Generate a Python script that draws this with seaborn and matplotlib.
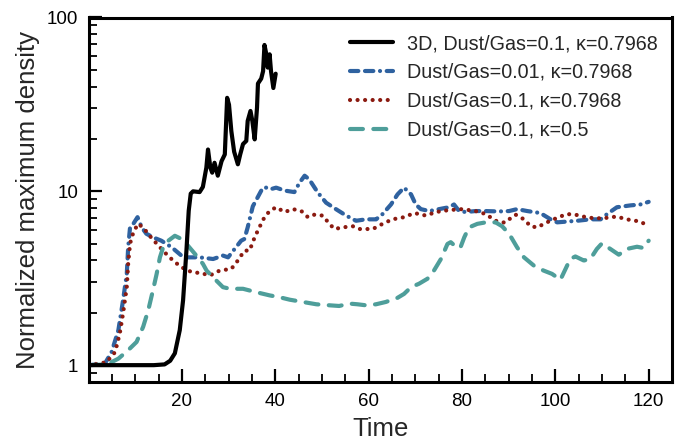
import numpy as np
import pandas as pd
import seaborn as sns
import matplotlib
matplotlib.use("Agg")
import matplotlib.pyplot as plt
from matplotlib.ticker import FixedLocator, FixedFormatter, LogLocator, NullFormatter, MultipleLocator

# ---------------- data ----------------
labels = ["3D, Dust/Gas=0.1, \u03ba=0.7968",
          "Dust/Gas=0.01, \u03ba=0.7968",
          "Dust/Gas=0.1, \u03ba=0.7968",
          "Dust/Gas=0.1, \u03ba=0.5"]

time_3d = [0, 5, 10, 14, 16.3, 17.5, 18.5, 19.55, 20.26, 20.98, 21.47, 21.9, 22.4, 23.8, 24.5,
           25.25, 25.6, 26.1, 26.5, 27.0, 27.7, 28.5, 29.2, 29.7, 30.1, 30.6, 31.2, 32.0, 32.5,
           33.1, 33.8, 34.1, 34.7, 35.1, 35.6, 36.1, 36.3, 37.0, 37.4, 37.7, 38.1, 38.4, 38.8,
           39.1, 39.6, 40.1]
dens_3d = [1.0, 1.0, 1.0, 1.0, 1.01, 1.06, 1.17, 1.59, 2.36, 4.56, 7.73, 9.7, 10.0, 9.9, 10.6,
           13.7, 17.4, 13.7, 12.8, 14.6, 12.3, 14.9, 16.3, 34.5, 31.5, 22.2, 16.9, 14.3, 16.3,
           18.7, 19.5, 25.4, 29.0, 25.4, 19.9, 30.3, 41.7, 44.5, 49.1, 69.5, 61.4, 51.5, 61.4,
           49.1, 39.3, 47.5]

time_d001 = [0, 3.5, 4.95, 6.4, 7.4, 8.2, 8.5, 8.9, 9.6, 10.5, 11.4, 12.4, 13.8, 15.6, 17.8,
             19.9, 21.3, 23.8, 26.7, 28.8, 29.9, 31.3, 32.7, 33.4, 34.1, 35.2, 36.3, 37.35,
             38.4, 39.1, 40.2, 42.0, 44.1, 45.2, 46.3, 47.3, 49.1, 50.9, 53.0, 55.2, 57.3,
             59.4, 61.6, 63.0, 64.8, 66.2, 67.6, 69.1, 70.1, 71.2, 73.0, 75.1, 77.2, 78.3,
             79.4, 80.8, 82.9, 85.1, 87.9, 90.1, 91.8, 94.0, 96.8, 99.0, 100.4, 102.5, 104.7,
             107.5, 109.7, 111.1, 113.2, 116.1, 118.2, 120.0]
dens_d001 = [1.0, 1.02, 1.19, 1.59, 2.36, 3.35, 4.77, 6.2, 6.5, 7.1, 6.2, 5.7, 5.44, 5.2, 4.77,
             4.27, 4.17, 4.17, 4.08, 4.27, 4.17, 4.66, 5.2, 5.32, 6.2, 8.2, 9.3, 10.5,
             10.5, 10.3, 10.5, 10.1, 9.9, 11.2, 12.3, 11.7, 9.86, 8.6, 7.9, 7.25, 6.77,
             6.9, 6.9, 7.4, 8.4, 9.6, 10.5, 9.6, 8.4, 7.9, 7.7, 7.9, 8.1, 8.4,
             7.7, 7.6, 7.7, 7.7, 7.66, 7.7, 7.9, 7.7, 7.5, 6.9, 6.63, 6.7, 6.77,
             6.9, 6.9, 7.4, 8.1, 8.3, 8.4, 8.7]

time_d01 = [0, 3.9, 5.7, 6.7, 7.4, 8.2, 8.5, 8.9, 9.6, 10.6, 11.7, 13.1, 14.6, 16.3, 18.1,
            19.9, 22.1, 24.2, 26.0, 28.1, 30.6, 32.0, 33.4, 34.5, 35.6, 36.6, 37.7, 38.8,
            40.2, 42.0, 43.8, 45.6, 47.0, 48.4, 50.2, 51.6, 52.7, 54.4, 56.6, 58.0, 60.9,
            63.0, 65.1, 67.6, 69.8, 72.3, 74.4, 77.2, 80.1, 82.9, 85.1, 87.2, 89.2, 90.1,
            91.5, 93.3, 94.7, 96.1, 98.2, 100.7, 102.5, 104.3, 106.1, 108.2, 110.4, 111.8,
            113.2, 115.3, 118.2, 120.0]
dens_d01 = [1.0, 1.04, 1.19, 1.52, 1.98, 2.81, 3.83, 5.0, 5.8, 6.5, 6.2, 5.55, 5.0, 4.46, 4.0,
            3.66, 3.43, 3.38, 3.28, 3.5, 3.58, 4.0, 4.56, 4.56, 5.44, 6.2, 7.1, 7.7,
            8.1, 7.6, 7.9, 7.7, 7.1, 7.34, 7.25, 6.5, 6.07, 6.2, 6.3, 6.07, 6.07,
            6.5, 6.9, 7.1, 7.5, 7.25, 7.6, 7.8, 7.9, 7.7, 7.4, 6.77, 6.6, 6.9,
            7.34, 6.9, 6.3, 6.2, 6.63, 7.1, 7.4, 7.34, 7.15, 7.0, 7.0, 7.1,
            7.15, 6.9, 6.7, 6.3]

time_k05 = [0, 4, 6.4, 8.5, 10.3, 11.7, 12.8, 13.8, 14.6, 15.3, 16.0, 17.1, 18.5, 19.9, 21.3,
            23.1, 24.5, 25.3, 27.0, 28.8, 30.3, 33.1, 35.9, 38.8, 40.9, 43.1, 45.9, 48.8,
            51.6, 53.7, 55.9, 57.6, 59.4, 61.6, 63.7, 66.2, 67.6, 69.1, 70.8, 72.6, 74.0,
            75.5, 76.9, 77.6, 79.0, 79.7, 80.5, 81.5, 83.3, 85.1, 87.2, 88.6, 90.1, 91.8,
            93.3, 95.4, 97.5, 99.3, 101.1, 102.2, 103.2, 104.3, 106.1, 107.5, 108.9, 110.0,
            111.8, 113.6, 115.3, 117.5, 118.9, 120.0]
dens_k05 = [1.0, 1.01, 1.09, 1.22, 1.36, 1.66, 2.07, 2.69, 3.35, 4.17, 4.77, 5.2, 5.55, 5.32, 4.87,
            4.27, 3.83, 3.5, 3.14, 2.81, 2.75, 2.75, 2.63, 2.52, 2.46, 2.38, 2.31, 2.24,
            2.21, 2.19, 2.26, 2.24, 2.21, 2.24, 2.31, 2.44, 2.57, 2.81, 2.94, 3.14, 3.5,
            4.08, 4.98, 5.1, 4.72, 4.77, 5.44, 6.2, 6.5, 6.63, 6.63, 6.3, 5.7, 4.77,
            4.17, 3.74, 3.5, 3.35, 3.1, 3.58, 4.08, 4.22, 4.0, 4.08, 4.66, 5.02,
            4.66, 4.32, 4.66, 4.8, 4.72, 5.2]

x_ticks = [20, 40, 60, 80, 100, 120]
y_ticks = [1, 10, 100]
y_ticklabels = ["1", "10", "100"]

colors = ["#000000", "#2f62a0", "#8b1a10", "#4e9e9a"]

# ---------------- build frame ----------------
series = [(time_3d, dens_3d), (time_d001, dens_d001), (time_d01, dens_d01), (time_k05, dens_k05)]
frames = []
for lab, (t, d) in zip(labels, series):
    assert len(t) == len(d), (lab, len(t), len(d))
    frames.append(pd.DataFrame({"Time": t, "Density": d, "Series": lab}))
df = pd.concat(frames, ignore_index=True)

sns.set_style("ticks")
plt.rcParams["font.family"] = ["Liberation Sans", "DejaVu Sans"]

fig = plt.figure(figsize=(6.81, 4.41), dpi=100)
ax = fig.add_axes([88.5 / 681, 1 - 382 / 441, (672 - 88.5) / 681, (382 - 17.5) / 441])

palette = dict(zip(labels, colors))
dashes = {labels[0]: "",
          labels[1]: (2.0, 1.6, 2.0, 1.6, 0.01, 1.6),
          labels[2]: (0.01, 1.8),
          labels[3]: (3.1, 2.5)}

LW = 3.0
sns.lineplot(data=df, x="Time", y="Density", hue="Series", style="Series",
             hue_order=labels, style_order=labels, palette=palette, dashes=dashes,
             estimator=None, sort=False, legend=False, ax=ax)

for ln in ax.lines:
    ln.set_linewidth(LW)
    ln.set_dash_capstyle("round")
    ln.set_solid_capstyle("round")
    ln.set_solid_joinstyle("round")
    ln.set_zorder(2)
ax.lines[0].set_zorder(3)

ax.set_yscale("log")
ax.set_xlim(0, 125)
ax.set_ylim(0.8, 100)

ax.xaxis.set_major_locator(FixedLocator(x_ticks))
ax.xaxis.set_minor_locator(MultipleLocator(5))
ax.yaxis.set_major_locator(FixedLocator(y_ticks))
ax.yaxis.set_major_formatter(FixedFormatter(y_ticklabels))
ax.yaxis.set_minor_locator(LogLocator(base=10, subs=np.arange(2, 10) / 1.0))
ax.yaxis.set_minor_formatter(NullFormatter())

ax.tick_params(which="major", direction="in", length=9.5, width=1.6, labelsize=13.5,
               color="black", labelcolor="black")
ax.tick_params(axis="x", which="major", pad=8)
ax.tick_params(axis="y", which="major", pad=7.5)
ax.tick_params(which="minor", direction="in", length=5.5, width=1.3, color="black")
ax.tick_params(top=False, right=False, which="both")

for sp in ax.spines.values():
    sp.set_linewidth(2.2)
    sp.set_color("black")
    sp.set_visible(True)

ax.set_xlabel("Time", fontsize=18.5, labelpad=5)
ax.set_ylabel("Normalized maximum density", fontsize=18.5, labelpad=5)

handles = ax.lines[:4]
ax.legend(handles, labels, loc="upper left", bbox_to_anchor=(350 / 681, 1 - 34 / 441),
          bbox_transform=fig.transFigure, frameon=False, fontsize=14.2,
          handlelength=2.18, handletextpad=0.71, labelspacing=0.5,
          borderaxespad=0, borderpad=0)

fig.savefig("out.png", dpi=100)
